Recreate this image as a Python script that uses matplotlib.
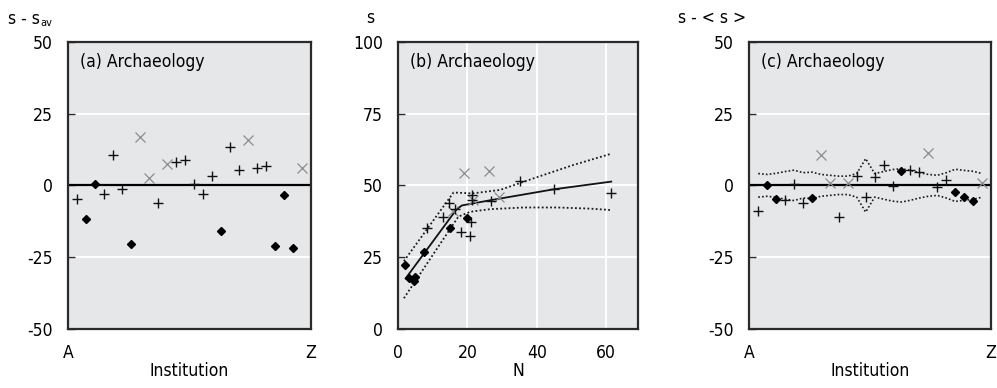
import matplotlib
matplotlib.use("Agg")
import matplotlib.pyplot as plt
from matplotlib import font_manager
from matplotlib.font_manager import FontProperties

plt.rcParams['axes.unicode_minus'] = False

# pick a condensed/narrow regular font if one is installed
cond = None
for f in font_manager.fontManager.ttflist:
    st = str(f.stretch).lower()
    is_cond = ('narrow' in f.name.lower() or 'condensed' in f.name.lower()
               or st in ('condensed', 'semi-condensed', 'extra-condensed'))
    w = f.weight
    regular = (w in (400, 'normal', 'regular', 'book')) and f.style == 'normal'
    if is_cond and regular and 'mono' not in f.name.lower() and 'serif' not in f.name.lower():
        cond = f.fname
        break

if cond is not None:
    FP = dict(fontproperties=FontProperties(fname=cond))
    FS = 12.6
else:
    plt.rcParams['font.family'] = ['Liberation Sans', 'DejaVu Sans']
    FP = {}
    FS = 12.5

# ---------------- data ----------------
# panel (a): s - s_av by institution (A..Z)
inst_a_vals = [-4.6, -11.8, 0.3, -3.1, 10.4, -1.1, -20.4, 16.7, 2.4, -6.0, 7.4, 8.2, 8.9,
               0.3, -3.1, 3.3, -16.0, 13.4, 5.3, 15.9, 6.0, 6.9, -21.1, -3.2, -21.8, 6.0]
inst_types = ['+', 'd', 'd', '+', '+', '+', 'd', 'x', 'x', '+', 'x', '+', '+',
              '+', '+', '+', 'd', '+', '+', 'x', '+', '+', 'd', 'd', 'd', 'x']

# panel (b): s vs N
b_diamond_N = [2.0, 3.1, 4.5, 5.0, 7.4, 15.0, 19.8]
b_diamond_s = [22.4, 17.6, 16.6, 18.2, 26.8, 35.1, 38.8]
b_cross_N = [16.0, 18.9, 21.7, 26.2, 29.0]
b_cross_s = [41.0, 54.4, 44.9, 55.1, 45.9]
b_plus_N = [8.4, 12.9, 14.7, 16.4, 18.1, 20.8, 21.1, 21.2, 21.2, 26.8, 35.3, 44.9, 61.4]
b_plus_s = [35.3, 39.0, 43.7, 41.8, 33.9, 32.4, 37.4, 46.6, 45.0, 44.6, 51.6, 48.7, 47.3]
fit_N = [2.2, 16.8, 18.4, 27.0, 44.8, 61.5]
fit_s = [17.6, 41.5, 43.0, 44.9, 48.6, 51.3]
upper_N = [1.7, 16.0, 21.5, 29.4, 39.0, 50.6, 61.5]
upper_s = [23.6, 47.5, 47.2, 48.4, 52.4, 57.1, 61.0]
lower_N = [1.7, 17.4, 20.8, 26.5, 36.2, 45.8, 55.4, 61.5]
lower_s = [10.7, 39.1, 40.8, 41.7, 42.3, 42.3, 41.9, 41.4]

# panel (c): s - <s> by institution
inst_c_vals = [-9.0, 0.0, -4.6, -5.1, 0.5, -6.0, -4.3, 10.6, 0.9, -11.1, 0.9, 3.1, -4.2,
               2.8, 7.0, -0.3, 5.0, 5.3, 4.5, 11.2, -0.5, 1.7, -2.2, -4.2, -5.3, 0.7]
c_band = [4.1, 3.8, 4.2, 4.8, 5.3, 4.4, 4.6, 3.8, 3.5, 3.2, 3.2, 4.1, 9.3,
          4.1, 4.8, 5.5, 5.8, 5.2, 4.4, 3.8, 3.5, 4.4, 5.6, 5.2, 4.9, 4.1]

# ---------------- style ----------------
BG = '#e6e7e9'
SPINE = '#2a2a2a'
GREY = '#8c8c8c'
DOT = (0, (1, 1.3))

MSTYLE = {
    'd': dict(marker='D', color='black', markersize=3.9, linestyle='none'),
    '+': dict(marker='+', color='#111111', markersize=7, markeredgewidth=1.0, linestyle='none'),
    'x': dict(marker='x', color=GREY, markersize=6.5, markeredgewidth=0.9, linestyle='none'),
}

fig = plt.figure(figsize=(9.97, 3.88), dpi=100)
H = 388.0
W = 997.0
def axes_px(l, r, t=41.7, b=329.0):
    return fig.add_axes([l / W, (H - b) / H, (r - l) / W, (b - t) / H])

ax_a = axes_px(68, 310.7)
ax_b = axes_px(398, 638.3)
ax_c = axes_px(749.3, 991)

def txt(x, y, s, size=None, **kw):
    kw.update(FP)
    return fig.text(x, y, s, fontsize=size or FS, **kw)

def style(ax):
    ax.set_facecolor(BG)
    for sp in ax.spines.values():
        sp.set_color(SPINE)
        sp.set_linewidth(1.6)
    ax.tick_params(axis='y', direction='in', length=5, width=1.0, color=SPINE,
                   labelsize=FS, pad=11)
    ax.tick_params(axis='x', length=0, labelsize=FS, pad=11)
    ax.set_axisbelow(True)

def fix_ticklabels(ax):
    if FP:
        for lab in ax.get_xticklabels() + ax.get_yticklabels():
            lab.set_fontproperties(FontProperties(fname=cond, size=FS))

positions = list(range(1, len(inst_types) + 1))

def inst_panel(ax, vals, title):
    style(ax)
    ax.set_xlim(0, 27)
    ax.set_ylim(-50, 50)
    ax.set_yticks([-50, -25, 0, 25, 50])
    ax.set_xticks([0, 27])
    ax.set_xticklabels(['A', 'Z'])
    for yv in (-25, 25):
        ax.axhline(yv, color='white', lw=1.4, zorder=0.5)
    ax.axhline(0, color='black', lw=1.6, zorder=1)
    for t in ('x', '+', 'd'):
        xs = [p for p, tt in zip(positions, inst_types) if tt == t]
        ys = [v for v, tt in zip(vals, inst_types) if tt == t]
        ax.plot(xs, ys, zorder=3, **MSTYLE[t])
    ax.text(0.05, 0.93, title, transform=ax.transAxes, fontsize=FS,
            va='center', ha='left', **FP)
    ax.set_xlabel('Institution', fontsize=FS, labelpad=0, **FP)
    fix_ticklabels(ax)

inst_panel(ax_a, inst_a_vals, '(a) Archaeology')
inst_panel(ax_c, inst_c_vals, '(c) Archaeology')

# band in (c)
ax_c.plot(positions, c_band, color='#1a1a1a', lw=1.2, ls=DOT, zorder=2)
ax_c.plot(positions, [-w for w in c_band], color='#1a1a1a', lw=1.2, ls=DOT, zorder=2)

# panel (b)
style(ax_b)
ax_b.set_xlim(0, 69.3)
ax_b.set_ylim(0, 100)
ax_b.set_yticks([0, 25, 50, 75, 100])
ax_b.set_xticks([0, 20, 40, 60])
for yv in (25, 50, 75):
    ax_b.axhline(yv, color='white', lw=1.4, zorder=0.5)
for xv in (20, 40, 60):
    ax_b.axvline(xv, color='white', lw=1.4, zorder=0.5)
ax_b.plot(upper_N, upper_s, color='#1a1a1a', lw=1.3, ls=DOT, zorder=2)
ax_b.plot(lower_N, lower_s, color='#1a1a1a', lw=1.3, ls=DOT, zorder=2)
ax_b.plot(fit_N, fit_s, color='#111111', lw=1.3, zorder=2)
ax_b.plot(b_cross_N, b_cross_s, zorder=3, **MSTYLE['x'])
ax_b.plot(b_plus_N, b_plus_s, zorder=3, **MSTYLE['+'])
ax_b.plot(b_diamond_N, b_diamond_s, zorder=3, **MSTYLE['d'])
ax_b.text(0.05, 0.93, '(b) Archaeology', transform=ax_b.transAxes,
          fontsize=FS, va='center', ha='left', **FP)
ax_b.set_xlabel('N', fontsize=FS, labelpad=0, **FP)
fix_ticklabels(ax_b)

# y-labels placed at top-left
t1 = txt(8 / W, 1 - 19 / H, 's - s', ha='left', va='center')
fig.canvas.draw()
bb = t1.get_window_extent()
txt((bb.x1 + 0.5) / W, 1 - 23 / H, 'av', size=FS * 0.62, ha='left', va='center')
txt(370 / W, 1 - 18 / H, 's', ha='center', va='center')
txt(712.5 / W, 1 - 18 / H, 's - < s >', ha='center', va='center')

fig.savefig('out.png', dpi=100)
